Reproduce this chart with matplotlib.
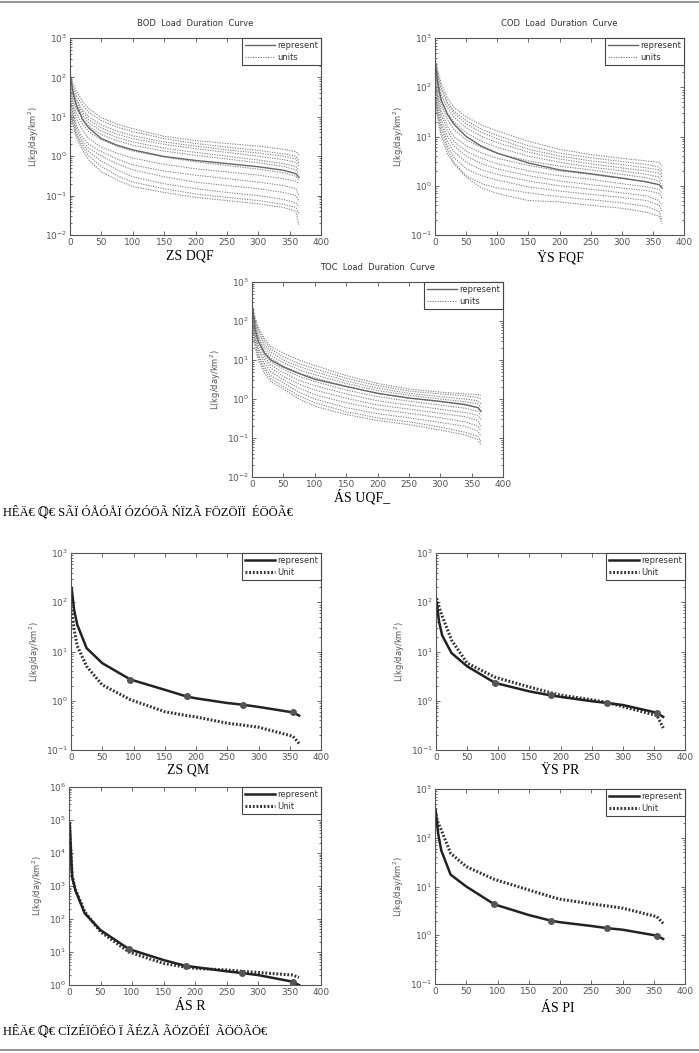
import matplotlib
matplotlib.use("Agg")
import matplotlib.pyplot as plt
from matplotlib.lines import Line2D
from matplotlib.ticker import LogLocator, NullFormatter, MultipleLocator

# dias de duração (eixo x) usados em todas as curvas do topo
dias = [1, 5, 10, 20, 30, 50, 75, 100, 150, 200, 250, 300, 340, 360, 365]

bod_represent = [100, 40, 20, 8.5, 5.2, 2.8, 1.9, 1.45, 0.98, 0.78, 0.65, 0.54, 0.44, 0.36, 0.29]
bod_units = [
    [110, 70, 45, 25, 16, 9.5, 6.5, 5.0, 3.2, 2.5, 2.1, 1.8, 1.5, 1.3, 1.1],
    [90, 55, 35, 20, 13, 8, 5.5, 4.2, 2.8, 2.1, 1.7, 1.4, 1.15, 1.0, 0.75],
    [80, 45, 28, 15, 10, 6.2, 4.3, 3.3, 2.3, 1.8, 1.45, 1.2, 1.0, 0.85, 0.65],
    [70, 40, 24, 13, 8.5, 5.2, 3.6, 2.8, 2.0, 1.55, 1.25, 1.0, 0.82, 0.7, 0.55],
    [60, 35, 20, 11, 7, 4.3, 3.0, 2.3, 1.6, 1.25, 1.0, 0.8, 0.65, 0.55, 0.42],
    [50, 28, 16, 9, 5.8, 3.5, 2.5, 1.9, 1.35, 1.05, 0.85, 0.68, 0.55, 0.45, 0.35],
    [40, 22, 12, 6.5, 4.2, 2.6, 1.8, 1.35, 0.95, 0.72, 0.58, 0.47, 0.38, 0.31, 0.24],
    [35, 18, 9, 4.5, 2.8, 1.7, 1.2, 0.9, 0.62, 0.48, 0.4, 0.33, 0.27, 0.23, 0.2],
    [30, 14, 6, 3.0, 2.0, 1.3, 0.85, 0.6, 0.42, 0.33, 0.27, 0.22, 0.18, 0.15, 0.1],
    [25, 11, 5, 2.4, 1.6, 1.0, 0.65, 0.45, 0.3, 0.22, 0.18, 0.15, 0.12, 0.1, 0.07],
    [20, 9, 4, 2.0, 1.3, 0.75, 0.45, 0.3, 0.2, 0.15, 0.12, 0.1, 0.08, 0.065, 0.05],
    [15, 7, 3.5, 1.7, 1.0, 0.55, 0.32, 0.22, 0.15, 0.11, 0.09, 0.075, 0.06, 0.05, 0.035],
    [12, 6, 3, 1.4, 0.8, 0.4, 0.25, 0.17, 0.12, 0.09, 0.075, 0.062, 0.05, 0.04, 0.017],
]

cod_represent = [300, 110, 55, 28, 18, 10, 6.3, 4.6, 2.9, 2.1, 1.75, 1.43, 1.2, 1.05, 0.9]
cod_units = [
    [350, 200, 120, 60, 40, 25, 17, 13, 8.0, 5.5, 4.3, 3.6, 3.2, 3.0, 2.5],
    [300, 170, 100, 50, 33, 21, 14, 10.5, 6.5, 4.6, 3.7, 3.1, 2.7, 2.4, 2.0],
    [260, 150, 90, 45, 30, 18, 12, 9, 5.5, 4.0, 3.2, 2.7, 2.3, 2.1, 1.7],
    [220, 120, 70, 38, 25, 15, 10, 7.5, 4.8, 3.5, 2.8, 2.3, 2.0, 1.8, 1.5],
    [200, 100, 55, 30, 20, 12, 8, 6, 4.0, 3.0, 2.4, 2.0, 1.7, 1.5, 1.2],
    [180, 90, 45, 22, 14, 8.5, 6, 4.5, 3.2, 2.5, 2.1, 1.7, 1.45, 1.25, 1.0],
    [150, 70, 35, 16, 10, 6.5, 4.6, 3.6, 2.6, 2.0, 1.7, 1.4, 1.2, 1.05, 0.85],
    [120, 55, 28, 13, 8, 5, 3.6, 2.8, 2.0, 1.6, 1.35, 1.1, 0.95, 0.85, 0.7],
    [100, 45, 22, 10, 6.5, 4.0, 2.8, 2.2, 1.6, 1.25, 1.05, 0.9, 0.8, 0.7, 0.55],
    [80, 35, 18, 8, 5, 3.0, 2.1, 1.7, 1.25, 1.0, 0.85, 0.72, 0.62, 0.5, 0.4],
    [70, 30, 15, 6.5, 3.8, 2.2, 1.6, 1.3, 0.95, 0.78, 0.67, 0.58, 0.5, 0.4, 0.3],
    [60, 25, 12, 5.5, 3.0, 1.6, 1.1, 0.9, 0.72, 0.6, 0.52, 0.45, 0.38, 0.3, 0.2],
    [50, 20, 10, 4.5, 2.8, 1.5, 0.9, 0.7, 0.5, 0.47, 0.4, 0.35, 0.29, 0.24, 0.17],
]

toc_represent = [200, 60, 30, 15, 10, 6.6, 4.5, 3.2, 2.1, 1.4, 1.06, 0.87, 0.72, 0.6, 0.48]
toc_units = [
    [250, 120, 70, 35, 22, 15, 10, 7.2, 4.0, 2.5, 1.8, 1.5, 1.35, 1.3, 1.25],
    [220, 100, 60, 30, 19, 12, 8, 6, 3.4, 2.2, 1.6, 1.35, 1.2, 1.1, 1.0],
    [200, 90, 50, 25, 16, 10, 6.8, 5, 2.9, 1.9, 1.4, 1.15, 1.0, 0.9, 0.75],
    [180, 80, 42, 21, 13, 8.5, 5.6, 4.2, 2.5, 1.65, 1.25, 1.0, 0.85, 0.75, 0.6],
    [160, 70, 36, 17, 11, 7, 4.6, 3.5, 2.1, 1.4, 1.05, 0.85, 0.7, 0.6, 0.48],
    [140, 60, 30, 14, 9, 5.8, 3.8, 2.8, 1.7, 1.15, 0.88, 0.7, 0.58, 0.48, 0.38],
    [120, 50, 25, 12, 7.5, 4.7, 3.0, 2.2, 1.35, 0.9, 0.7, 0.55, 0.45, 0.38, 0.3],
    [100, 42, 20, 10, 6.2, 3.8, 2.4, 1.7, 1.05, 0.7, 0.55, 0.43, 0.35, 0.28, 0.2],
    [90, 35, 17, 8, 5, 3.1, 1.9, 1.3, 0.8, 0.55, 0.43, 0.33, 0.26, 0.2, 0.15],
    [80, 30, 14, 6.5, 4, 2.6, 1.5, 1.0, 0.6, 0.42, 0.33, 0.25, 0.2, 0.15, 0.11],
    [70, 25, 12, 5.5, 3.3, 2.1, 1.2, 0.8, 0.47, 0.33, 0.26, 0.19, 0.14, 0.11, 0.08],
    [60, 20, 10, 4.5, 2.8, 1.8, 1.0, 0.65, 0.4, 0.28, 0.22, 0.16, 0.12, 0.09, 0.065],
]

# curvas da comparação (parte de baixo)
dias_cmp = [1, 5, 10, 25, 50, 95, 150, 185, 200, 250, 275, 300, 355, 365]
dias_ponto = [95, 185, 275, 355]

a_represent = [195, 70, 35, 11.7, 5.8, 2.7, 1.67, 1.22, 1.12, 0.9, 0.83, 0.75, 0.58, 0.5]
a_unit = [70, 28, 13, 5.0, 2.1, 1.05, 0.6, 0.5, 0.47, 0.35, 0.32, 0.29, 0.19, 0.135]
b_represent = [100, 40, 21, 9.3, 5.0, 2.3, 1.55, 1.28, 1.2, 0.98, 0.9, 0.82, 0.57, 0.47]
b_unit = [120, 80, 52, 17, 5.8, 3.0, 1.9, 1.45, 1.3, 1.05, 0.92, 0.76, 0.5, 0.28]
c_represent = [80000, 1900, 750, 148, 46, 12.3, 5.7, 3.8, 3.5, 2.6, 2.3, 2.0, 1.26, 1.0]
c_unit = [60000, 2000, 800, 165, 41, 10, 4.5, 3.5, 3.2, 2.85, 2.6, 2.4, 2.0, 1.7]
d_represent = [370, 123, 55, 17.5, 10, 4.3, 2.6, 2.0, 1.85, 1.55, 1.4, 1.3, 0.98, 0.84]
d_unit = [300, 200, 145, 48, 25.6, 14, 8.5, 6.2, 5.5, 4.4, 4.0, 3.6, 2.4, 1.75]

legenda_topo = ["represent", "units"]
legenda_baixo = ["represent", "Unit"]
rotulo_y = "L(kg/day/km$^2$)"

W, H = 699, 1053
fig = plt.figure(figsize=(W / 100, H / 100), dpi=100)

cinza = "#555555"


def caixa(l, t, r, b):
    # converte pixels da imagem para fração da figura
    return [l / W, 1 - b / H, (r - l) / W, (b - t) / H]


def estilo(ax, ymin, ymax):
    ax.set_yscale("log")
    ax.set_xlim(0, 400)
    ax.set_ylim(ymin, ymax)
    ax.xaxis.set_major_locator(MultipleLocator(50))
    ax.yaxis.set_major_locator(LogLocator(base=10, numticks=20))
    ax.yaxis.set_minor_locator(LogLocator(base=10, subs=range(2, 10), numticks=20))
    ax.yaxis.set_minor_formatter(NullFormatter())
    ax.tick_params(which="both", direction="in", top=True, right=True,
                   colors=cinza, labelsize=6.5, pad=2, width=0.6)
    ax.tick_params(which="major", length=3)
    ax.tick_params(which="minor", length=1.5)
    for s in ax.spines.values():
        s.set_color(cinza)
        s.set_linewidth(0.8)
    ax.set_ylabel(rotulo_y, fontsize=6, color="#555555", labelpad=3)


def legenda(ax, handles, labels):
    lg = ax.legend(handles, labels, loc="upper right", fontsize=6,
                   borderaxespad=0, fancybox=False, framealpha=1,
                   handlelength=3.6, handletextpad=0.2, borderpad=0.4,
                   labelspacing=0.3)
    lg.get_frame().set_edgecolor("#444444")
    lg.get_frame().set_linewidth(0.8)
    for t in lg.get_texts():
        t.set_color("#333333")


def painel_topo(caixa_px, titulo, represent, units, ymin):
    ax = fig.add_axes(caixa(*caixa_px))
    for u in units:
        ax.plot(dias, u, color="#808080", linestyle=(0, (1.2, 1.2)), linewidth=0.75)
    ax.plot(dias, represent, color="#666666", linewidth=1.0)
    estilo(ax, ymin, 1e3)
    ax.set_title(titulo, fontsize=6, color="#333333", pad=9)
    handles = [Line2D([], [], color="#666666", linewidth=1.0),
               Line2D([], [], color="#808080", linestyle=(0, (1.2, 1.2)), linewidth=0.75)]
    legenda(ax, handles, legenda_topo)
    return ax


def painel_baixo(caixa_px, represent, unit, ymin, ymax):
    ax = fig.add_axes(caixa(*caixa_px))
    ax.plot(dias_cmp, unit, color="#333333", linestyle=(0, (0.6, 0.6)), linewidth=2.2)
    ax.plot(dias_cmp, represent, color="#222222", linewidth=1.8)
    pontos = [represent[dias_cmp.index(d)] for d in dias_ponto]
    ax.plot(dias_ponto, pontos, "o", color="#555555", markersize=4)
    estilo(ax, ymin, ymax)
    handles = [Line2D([], [], color="#222222", linewidth=1.8),
               Line2D([], [], color="#333333", linestyle=(0, (0.6, 0.6)), linewidth=2.2)]
    legenda(ax, handles, legenda_baixo)
    return ax


serif = ["Liberation Serif", "DejaVu Serif"]

painel_topo((70, 38, 321, 235), "BOD  Load  Duration  Curve", bod_represent, bod_units, 1e-2)
painel_topo((435, 38, 684, 235), "COD  Load  Duration  Curve", cod_represent, cod_units, 1e-1)
painel_topo((252, 282, 503, 477), "TOC  Load  Duration  Curve", toc_represent, toc_units, 1e-2)


def legenda_painel(x, y, texto):
    fig.text(x / W, 1 - y / H, texto, fontsize=10, family=serif,
             ha="center", va="center")


def legenda_figura(y, texto):
    fig.text(3 / W, 1 - y / H, texto, fontsize=9, family=serif,
             ha="left", va="center")


legenda_painel(190, 256, "ZS DQF")
legenda_painel(560, 257, "ŸS FQF")
legenda_painel(362, 497, "ÁS UQF_")
legenda_figura(512, "HÊÄ€ ℚ€ SÃÏ ÓÅÓÅÏ ÓZÓÖÃ ŃÏZÃ FÖZÖÏÏ  ÉÖÖÃ€")

painel_baixo((71, 553, 321, 750), a_represent, a_unit, 1e-1, 1e3)
painel_baixo((436, 553, 685, 750), b_represent, b_unit, 1e-1, 1e3)
painel_baixo((69, 787, 321, 985), c_represent, c_unit, 1e0, 1e6)
painel_baixo((435, 789, 685, 984), d_represent, d_unit, 1e-1, 1e3)

legenda_painel(188, 770, "ZS QM")
legenda_painel(560, 771, "ŸS PR")
legenda_painel(190, 1007, "ÁS R")
legenda_painel(558, 1009, "ÁS PI")
legenda_figura(1031, "HÊÄ€ ℚ€ CÏZÉÏÖÉÖ Ï ÃÉZÃ ÃÖZÖÉÏ  ÃÖÖÃÖ€")

# linhas horizontais de cima e de baixo
fig.add_artist(Line2D([0, 1], [1 - 2 / H, 1 - 2 / H], color="#999999", linewidth=1.5))
fig.add_artist(Line2D([0, 1], [1 - 1050 / H, 1 - 1050 / H], color="#999999", linewidth=1.5))

fig.savefig("out.png", dpi=100)
